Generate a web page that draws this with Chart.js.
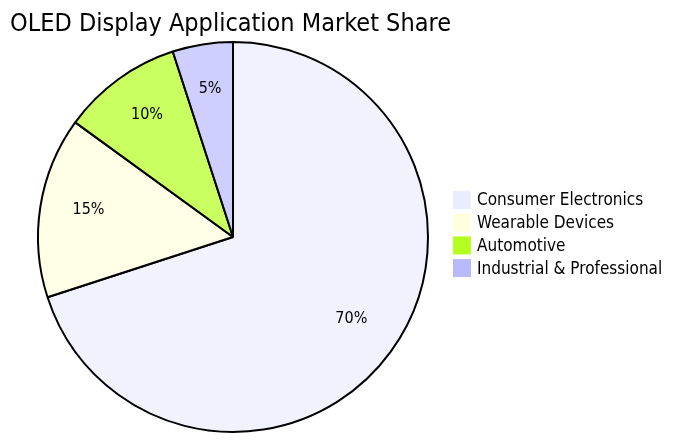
<!DOCTYPE html>
<html>
<head>
<meta charset="utf-8">
<script src="https://cdn.jsdelivr.net/npm/chart.js@4"></script>
<style>
  html, body { margin: 0; padding: 0; background: #fff; }
  #wrap { width: 681px; height: 441px; position: relative; }
</style>
</head>
<body>
<div id="wrap"><canvas id="chart"></canvas></div>
<script>
const title = "OLED Display Application Market Share";
const categories = ["Consumer Electronics", "Wearable Devices", "Automotive", "Industrial & Professional"];
const shares = [70, 15, 10, 5];
const colors = ["#ECECFF", "#FFFFDE", "#B4FF1F", "#B9B9FF"];

const FONT = "'DejaVu Sans Condensed', 'DejaVu Sans', sans-serif";

function fade(hex, a) {
  let r = parseInt(hex.slice(1, 3), 16);
  let g = parseInt(hex.slice(3, 5), 16);
  let b = parseInt(hex.slice(5, 7), 16);
  return `rgba(${r},${g},${b},${a})`;
}

// title, slice labels and legend drawn by hand
const extras = {
  id: "extras",
  afterDraw(chart) {
    const c = chart.ctx;
    c.save();
    c.fillStyle = "#000";
    c.textBaseline = "alphabetic";
    c.textAlign = "left";
    c.font = "25px " + FONT;
    c.fillText(title, 10, 31);

    // percentages
    const meta = chart.getDatasetMeta(0);
    const total = shares.reduce((a, b) => a + b, 0);
    c.font = "16px " + FONT;
    c.textAlign = "center";
    meta.data.forEach((arc, i) => {
      const mid = (arc.startAngle + arc.endAngle) / 2;
      const r = arc.outerRadius * 0.75;
      const x = arc.x + Math.cos(mid) * r;
      const y = arc.y + Math.sin(mid) * r;
      c.fillText(Math.round(shares[i] / total * 100) + "%", x, y);
    });

    // legend
    c.textAlign = "left";
    c.textBaseline = "middle";
    c.font = "17px " + FONT;
    categories.forEach((name, i) => {
      const y = 191 + i * 22.7;
      c.fillStyle = colors[i];
      c.fillRect(453, y, 18, 18);
      c.fillStyle = "#000";
      c.fillText(name, 477, y + 10);
    });
    c.restore();
  }
};

const ctx = document.getElementById("chart").getContext("2d");

let chart = new Chart(ctx, {
  type: "pie",
  data: {
    labels: categories,
    datasets: [{
      data: shares,
      backgroundColor: colors.map(col => fade(col, 0.7)),
      borderColor: "#000",
      borderWidth: 2
    }]
  },
  options: {
    responsive: true,
    maintainAspectRatio: false,
    animation: false,
    layout: { padding: { left: 37, top: 41, right: 252, bottom: 8 } },
    plugins: {
      legend: { display: false },
      tooltip: { enabled: false },
      title: { display: false }
    }
  },
  plugins: [extras]
});
</script>
</body>
</html>
